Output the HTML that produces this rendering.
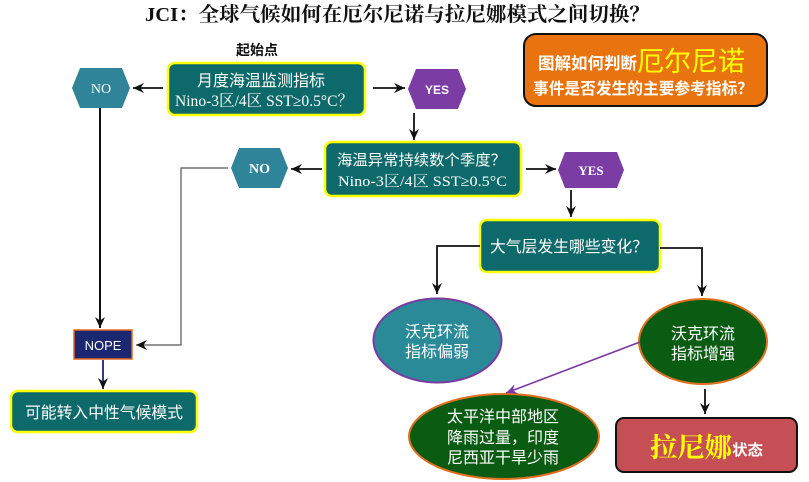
<!DOCTYPE html>
<html><head><meta charset="utf-8">
<style>
html,body{margin:0;padding:0;background:#fff;}
svg{display:block;}
.cjk{font-family:"Liberation Sans","Noto Sans CJK SC",sans-serif;}
.ser{font-family:"Liberation Serif","Noto Serif CJK SC",serif;}
</style></head>
<body>
<svg width="809" height="482" viewBox="0 0 809 482" xmlns="http://www.w3.org/2000/svg">
<defs>
<marker id="ar" markerUnits="userSpaceOnUse" markerWidth="12" markerHeight="12" refX="11" refY="6" orient="auto">
<path d="M0,1 L11,6 L0,11 L3.5,6 z" fill="#111"/>
</marker>
<marker id="arp" markerUnits="userSpaceOnUse" markerWidth="12" markerHeight="12" refX="11" refY="6" orient="auto">
<path d="M0,1 L11,6 L0,11 L3.5,6 z" fill="#7a3aa0"/>
</marker>
</defs>

<!-- title -->
<text x="145" y="21" class="ser" font-size="20" font-weight="bold" fill="#111" textLength="505" lengthAdjust="spacingAndGlyphs">JCI：全球气候如何在厄尔尼诺与拉尼娜模式之间切换？</text>

<!-- start label -->
<text x="257" y="55" class="cjk" font-size="14" font-weight="bold" fill="#111" text-anchor="middle">起始点</text>

<!-- orange box -->
<rect x="524" y="34" width="243" height="72" rx="12" fill="#e8730f" stroke="#111" stroke-width="2"/>
<text x="538" y="69" class="cjk" font-size="16.5" font-weight="bold" fill="#fff" textLength="99" lengthAdjust="spacingAndGlyphs">图解如何判断</text>
<text x="637" y="71" class="cjk" font-size="27" fill="#ffff00" textLength="108" lengthAdjust="spacingAndGlyphs">厄尔尼诺</text>
<text x="533" y="94" class="cjk" font-size="15.7" font-weight="bold" fill="#fff" textLength="220" lengthAdjust="spacingAndGlyphs">事件是否发生的主要参考指标？</text>

<!-- box1 -->
<rect x="168" y="63" width="197" height="52" rx="7" fill="#0e6a6a" stroke="#ffff00" stroke-width="2.5"/>
<text x="197" y="86" class="cjk" font-size="16" fill="#fff" textLength="128" lengthAdjust="spacingAndGlyphs">月度海温监测指标</text>
<text x="175" y="106" class="ser" font-size="16" fill="#fff" textLength="178" lengthAdjust="spacingAndGlyphs">Nino-3区/4区 SST≥0.5°C？</text>

<!-- NO1 -->
<polygon points="72,88 80,68 122,68 130,88 122,108 80,108" fill="#2f8499"/>
<text x="101" y="93" class="ser" font-size="14" fill="#fff" text-anchor="middle">NO</text>

<!-- YES1 -->
<polygon points="408,89 416,69 458,69 466,89 458,109 416,109" fill="#7b3da3"/>
<text x="437" y="94" font-family="Liberation Sans,sans-serif" font-size="12" font-weight="bold" fill="#fff" text-anchor="middle">YES</text>

<!-- box2 -->
<rect x="325" y="142" width="196" height="54" rx="7" fill="#0e6a6a" stroke="#ffff00" stroke-width="2.5"/>
<text x="337" y="165" class="cjk" font-size="15" fill="#fff" textLength="169" lengthAdjust="spacingAndGlyphs">海温异常持续数个季度？</text>
<text x="338" y="186" class="ser" font-size="15" fill="#fff" textLength="169" lengthAdjust="spacingAndGlyphs">Nino-3区/4区  SST≥0.5°C</text>

<!-- NO2 -->
<polygon points="231,168 239,148 280,148 288,168 280,188 239,188" fill="#2f8499"/>
<text x="259.5" y="173" class="ser" font-size="14" font-weight="bold" fill="#fff" text-anchor="middle">NO</text>

<!-- YES2 -->
<polygon points="558,170 565,152 617,152 624,170 617,188 565,188" fill="#7b3da3"/>
<text x="591" y="175" class="ser" font-size="13" font-weight="bold" fill="#fff" text-anchor="middle">YES</text>

<!-- box3 -->
<rect x="480" y="220" width="180" height="52" rx="7" fill="#0e6a6a" stroke="#ffff00" stroke-width="2.5"/>
<text x="490" y="252" class="cjk" font-size="15.8" fill="#fff" textLength="158" lengthAdjust="spacingAndGlyphs">大气层发生哪些变化？</text>

<!-- NOPE -->
<rect x="74" y="330" width="58" height="29" fill="#1b2770" stroke="#e06a20" stroke-width="1.5"/>
<text x="103" y="350" font-family="Liberation Sans,sans-serif" font-size="13" fill="#fff" text-anchor="middle">NOPE</text>

<!-- bottom left box -->
<rect x="11" y="391" width="186" height="41" rx="7" fill="#0e6a6a" stroke="#ffff00" stroke-width="2.5"/>
<text x="25" y="418" class="cjk" font-size="15.8" fill="#fff" textLength="158" lengthAdjust="spacingAndGlyphs">可能转入中性气候模式</text>

<!-- ellipses -->
<ellipse cx="437.5" cy="340.5" rx="64" ry="42" fill="#2a8a98" stroke="#7a3aa0" stroke-width="2"/>
<text x="437" y="337" class="cjk" font-size="16" fill="#fff" text-anchor="middle">沃克环流</text>
<text x="437" y="357" class="cjk" font-size="16" fill="#fff" text-anchor="middle">指标偏弱</text>

<ellipse cx="703" cy="341.5" rx="64" ry="42.5" fill="#0a5c12" stroke="#e07020" stroke-width="2"/>
<text x="703" y="339" class="cjk" font-size="16" fill="#fff" text-anchor="middle">沃克环流</text>
<text x="703" y="359" class="cjk" font-size="16" fill="#fff" text-anchor="middle">指标增强</text>

<ellipse cx="504" cy="436.5" rx="95" ry="42.5" fill="#0a5c12" stroke="#e07020" stroke-width="2"/>
<text x="503" y="422" class="cjk" font-size="16" fill="#fff" text-anchor="middle">太平洋中部地区</text>
<text x="503" y="443" class="cjk" font-size="16" fill="#fff" text-anchor="middle">降雨过量，印度</text>
<text x="503" y="463" class="cjk" font-size="16" fill="#fff" text-anchor="middle">尼西亚干旱少雨</text>

<!-- red box -->
<rect x="616" y="418" width="181" height="54" rx="8" fill="#c64e55" stroke="#111" stroke-width="2"/>
<text x="650" y="457" class="ser" font-size="27" font-weight="bold" fill="#ffff00" textLength="82" lengthAdjust="spacingAndGlyphs">拉尼娜</text>
<text x="732" y="455" class="cjk" font-size="15" font-weight="bold" fill="#fff" textLength="31" lengthAdjust="spacingAndGlyphs">状态</text>

<!-- connectors -->
<g stroke="#111" stroke-width="1.8" fill="none">
<line x1="163" y1="88" x2="133" y2="88" marker-end="url(#ar)"/>
<line x1="373" y1="88" x2="405" y2="88" marker-end="url(#ar)"/>
<line x1="414" y1="113" x2="414" y2="140" marker-end="url(#ar)"/>
<line x1="322" y1="169" x2="291" y2="169" marker-end="url(#ar)"/>
<line x1="526" y1="169" x2="556" y2="169" marker-end="url(#ar)"/>
<line x1="571" y1="190" x2="571" y2="217" marker-end="url(#ar)"/>
<line x1="100" y1="108" x2="100" y2="328" stroke-width="2" marker-end="url(#ar)"/>
<line x1="103" y1="360" x2="103" y2="389" stroke="#1b2770" marker-end="url(#ar)"/>
<polyline points="480,246 437,246 437,294" marker-end="url(#ar)"/>
<polyline points="660,248 702,248 702,296" marker-end="url(#ar)"/>
<line x1="705" y1="389" x2="705" y2="414" marker-end="url(#ar)"/>
</g>
<polyline points="228,168 181,168 181,345 136,345" fill="none" stroke="#555" stroke-width="1.2" marker-end="url(#ar)"/>
<line x1="640" y1="342" x2="506" y2="393" stroke="#7a3aa0" stroke-width="1.6" marker-end="url(#arp)"/>
</svg>
</body></html>
